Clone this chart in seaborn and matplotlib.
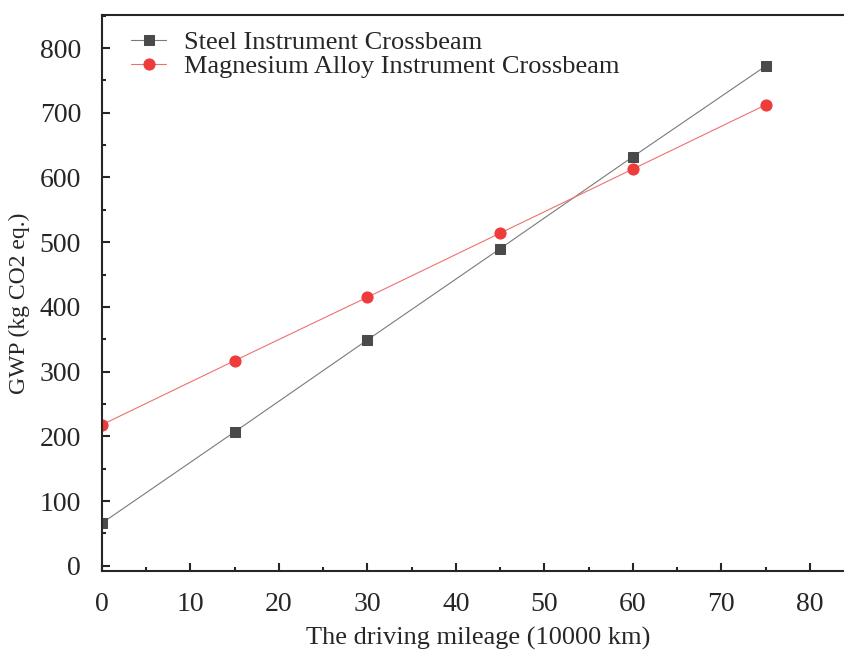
import pandas as pd
import matplotlib.pyplot as plt
import seaborn as sns
from matplotlib.ticker import MultipleLocator

# Datos
mileage = [0, 15, 30, 45, 60, 75]
steel = [66, 207, 349, 490, 632, 772]
magnesium = [218, 317, 415, 514, 613, 712]

df = pd.DataFrame({
    'mileage': mileage * 2,
    'gwp': steel + magnesium,
    'material': ['Steel Instrument Crossbeam'] * 6 + ['Magnesium Alloy Instrument Crossbeam'] * 6,
})

sns.set_style('ticks')
plt.rcParams['font.family'] = ['Liberation Serif', 'DejaVu Serif']

fig = plt.figure(figsize=(8.44, 6.53), dpi=100)
ax = fig.add_axes([102 / 844, 1 - 571 / 653, 752 / 844, 556 / 653])

sns.lineplot(data=df[df['material'] == 'Steel Instrument Crossbeam'], x='mileage', y='gwp',
             color='#7a7a7a', linewidth=0.8, marker='s', markersize=7,
             markerfacecolor='#4a4a4a', markeredgecolor='#4a4a4a',
             label='Steel Instrument Crossbeam', ax=ax)
sns.lineplot(data=df[df['material'] == 'Magnesium Alloy Instrument Crossbeam'], x='mileage', y='gwp',
             color='#f07070', linewidth=0.8, marker='o', markersize=8,
             markerfacecolor='#ee3b3b', markeredgecolor='#ee3b3b',
             label='Magnesium Alloy Instrument Crossbeam', ax=ax)

ax.set_xlim(0, 85)
ax.set_ylim(-8, 851)
ax.xaxis.set_major_locator(MultipleLocator(10))
ax.xaxis.set_minor_locator(MultipleLocator(5))
ax.yaxis.set_major_locator(MultipleLocator(100))
ax.yaxis.set_minor_locator(MultipleLocator(50))
ax.tick_params(which='both', direction='in', width=1.5, labelsize=20)
ax.tick_params(which='major', length=6)
ax.tick_params(which='minor', length=3)
ax.tick_params(axis='x', which='major', pad=15)
ax.tick_params(axis='y', which='major', pad=15)
for s in ax.spines.values():
    s.set_linewidth(1.5)
    s.set_visible(True)

ax.set_xlabel('The driving mileage (10000 km)', fontsize=19, labelpad=7)
ax.set_ylabel('GWP (kg CO2 eq.)', fontsize=17)
ax.yaxis.set_label_coords(-0.096, 0.482)

ax.legend(loc='upper left', frameon=False, fontsize=19, handlelength=1.3,
          handletextpad=0.7, labelspacing=0.0, borderaxespad=0.2,
          bbox_to_anchor=(0.018, 1.0))

plt.savefig('out.png', dpi=100)
